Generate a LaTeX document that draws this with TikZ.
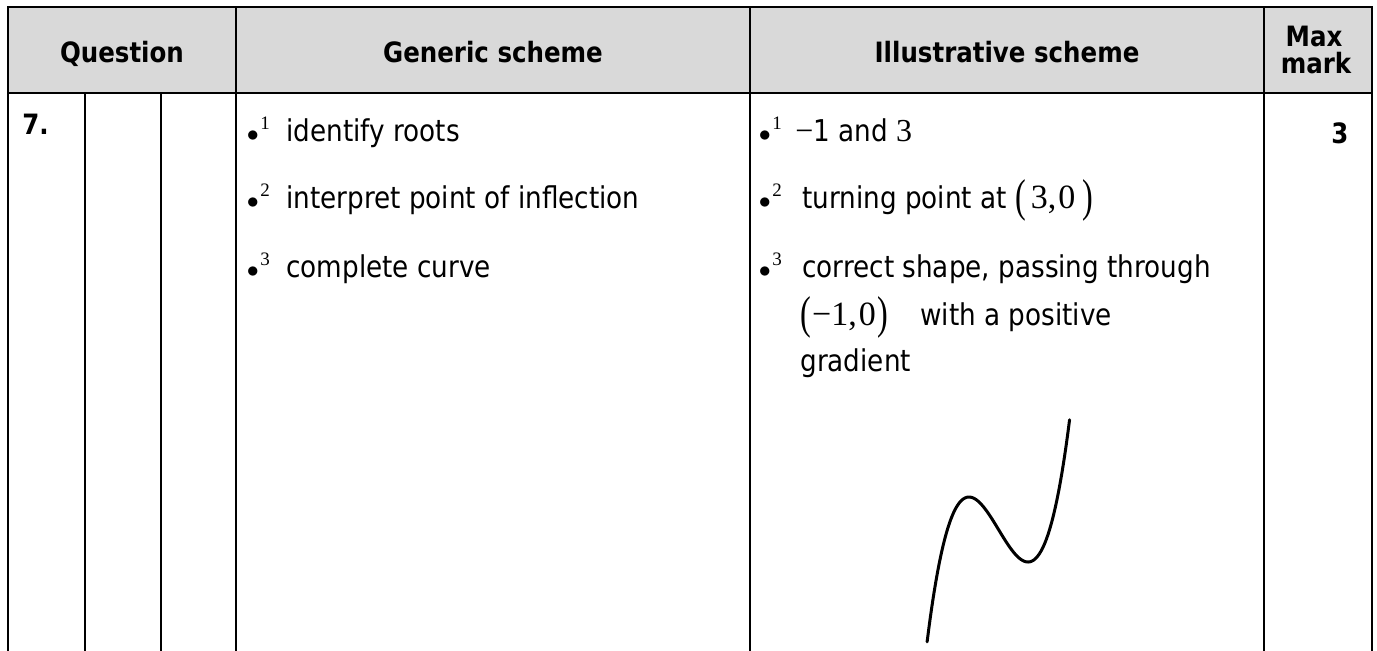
\documentclass[tikz,border=0pt]{standalone}
\usepackage{fontspec}
\setmainfont{DejaVu Sans}[FakeStretch=0.875]
\newfontfamily\serifnum{Liberation Serif}
\definecolor{headgray}{HTML}{D9D9D9}
\newcommand{\bigparen}[1]{\raisebox{-1.5pt}{\scalebox{0.7}[1]{\serifnum\fontsize{23}{23}\selectfont #1}}}
\newcommand{\ptpair}[4]{\bigparen{(}\hspace{#3}{\serifnum\fontsize{17}{17}\selectfont #1,\hspace{1pt}#2}\hspace{#4}\bigparen{)}}
\tikzset{
  rule/.style={line width=1.4pt},
  headtxt/.style={font=\fontsize{14}{16}\selectfont\bfseries, inner sep=0pt, anchor=base},
  bodytxt/.style={font=\fontsize{15}{17}\selectfont, inner sep=0pt, anchor=base west},
  bullettxt/.style={font=\fontsize{13}{13}\selectfont, inner sep=0pt, anchor=base west},
  suptxt/.style={font=\serifnum\fontsize{9.5}{9.5}\selectfont, inner sep=0pt, anchor=base west},
  curveline/.style={line width=1.5pt, line cap=round}
}
\begin{document}
\begin{tikzpicture}[x=0.5pt, y=-0.5pt]
\useasboundingbox (0,0) rectangle (1377,650);
% header background
\fill[headgray] (8,7) rectangle (1372,93);
% table rules
\draw[rule] (7.3,7) -- (1372.7,7);
\draw[rule] (8,93) -- (1372,93);
\draw[rule] (8,6.3) -- (8,660);
\draw[rule] (236,7) -- (236,660);
\draw[rule] (750,7) -- (750,660);
\draw[rule] (1264,7) -- (1264,660);
\draw[rule] (1372,6.3) -- (1372,660);
\draw[rule] (85,93) -- (85,660);
\draw[rule] (161,93) -- (161,660);
% headers
\node[headtxt] (hq) at (122,62) {Question};
\node[headtxt] (hg) at (493,62) {Generic scheme};
\node[headtxt] (hi) at (1007,62) {Illustrative scheme};
\node[headtxt] (hm1) at (1314,46) {Max};
\node[headtxt] (hm2) at (1316,73) {mark};
% question number and mark
\node[headtxt, anchor=base west] (qn) at (22,134) {7.};
\node[headtxt] (mk) at (1340,143) {3};
% generic scheme
\node[bullettxt] (gb1) at (246.5,141) {$\bullet$};
\node[suptxt] (gs1) at (260,129) {1};
\node[bodytxt] (g1) at (286,141) {identify roots};
\node[bullettxt] (gb2) at (246.5,208) {$\bullet$};
\node[suptxt] (gs2) at (260,196) {2};
\node[bodytxt] (g2) at (286,208) {interpret point of inflection};
\node[bullettxt] (gb3) at (246.5,277) {$\bullet$};
\node[suptxt] (gs3) at (260,265) {3};
\node[bodytxt] (g3) at (286,277) {complete curve};
% illustrative scheme
\node[bullettxt] (ib1) at (758.5,141) {$\bullet$};
\node[suptxt] (is1) at (772,129) {1};
\node[bodytxt] (i1) at (795,141) {{\serifnum\fontsize{16}{16}\selectfont −}1 and {\serifnum\fontsize{16}{16}\selectfont 3}};
\node[bullettxt] (ib2) at (758.5,208) {$\bullet$};
\node[suptxt] (is2) at (772,196) {2};
\node[bodytxt] (i2) at (802,208) {turning point at \ptpair{3}{0}{2.5pt}{3.5pt}};
\node[bullettxt] (ib3) at (758.5,277) {$\bullet$};
\node[suptxt] (is3) at (772,265) {3};
\node[bodytxt] (i3) at (802,277) {correct shape, passing through};
\node[bodytxt] (i3b) at (800,325) {\ptpair{−1}{0}{0.5pt}{1pt}};
\node[bodytxt] (i3c) at (920,325) {with a positive};
\node[bodytxt] (i3d) at (800,371) {gradient};
% sketch of the curve
\draw[curveline, domain=-2.42:2.41, samples=80, smooth, variable=\t]
  plot ({998.5+29.5*\t}, {529.5-16.25*(\t*\t*\t-3*\t)});
\end{tikzpicture}
\end{document}
